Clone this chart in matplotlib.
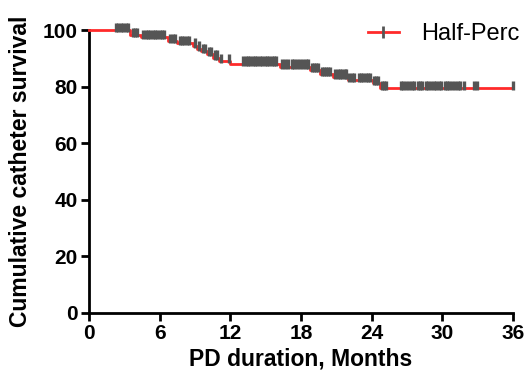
import matplotlib
matplotlib.use("Agg")
import matplotlib.pyplot as plt
from matplotlib.lines import Line2D
import numpy as np

plt.rcParams['font.family'] = ['Liberation Sans', 'DejaVu Sans']

# Kaplan-Meier steps: time (months) at which survival drops, and the level after it
step_times = [0, 3.5, 4.4, 6.7, 7.5, 8.8, 9.2, 9.5, 10.0, 10.5, 11.0, 12.0,
              16.2, 18.8, 19.6, 20.7, 22.0, 24.1, 24.7]
step_surv = [100, 98.3, 97.6, 96.2, 95.4, 94.5, 93.5, 92.5, 91.5, 90.3, 89.0, 88.2,
             87.1, 85.9, 84.5, 83.5, 82.3, 81.2, 79.5]
end_time = 36.0

# Censored observation times (months)
censor_times = [2.3, 2.5, 2.7, 2.9, 3.1, 3.3, 3.7, 3.9, 4.1, 4.6, 4.8, 5.0, 5.2, 5.4,
                5.6, 5.8, 6.0, 6.2, 6.4, 6.9, 7.1, 7.3, 7.7, 7.9, 8.1, 8.3, 8.5, 9.0,
                9.35, 9.7, 9.85, 10.2, 10.35, 10.7, 10.85, 11.2, 11.85,
                13.1, 13.3, 13.5, 13.7, 13.9, 14.1, 14.3, 14.5, 14.7, 14.9, 15.1, 15.3,
                15.5, 15.7, 15.9, 16.4, 16.6, 16.9, 17.2, 17.4, 17.7, 17.9, 18.2, 18.4,
                18.6, 18.9, 19.1, 19.3, 19.45, 19.75, 19.95, 20.1, 20.3, 20.5, 20.9,
                21.1, 21.3, 21.5, 21.7, 21.85, 22.1, 22.3, 22.5, 22.9, 23.1, 23.3, 23.5,
                23.7, 23.9, 24.2, 24.4, 24.55, 24.85, 25.05, 25.25, 26.5, 26.7, 26.9,
                27.2, 27.4, 27.6, 27.9, 28.1, 28.3, 28.6, 28.8, 29.0, 29.3, 29.5, 29.7,
                29.9, 30.2, 30.4, 30.6, 30.8, 31.1, 31.3, 31.5, 31.8, 32.65, 32.95, 36.0]

x_ticks = [0, 6, 12, 18, 24, 30, 36]
y_ticks = [0, 20, 40, 60, 80, 100]

fig = plt.figure(figsize=(5.28, 3.77), dpi=100)
ax = fig.add_axes([0.1686, 0.170, 0.803, 0.750])

red = '#ff2a2a'
gray = '#555555'

st = list(step_times) + [end_time]
sv = list(step_surv) + [step_surv[-1]]
ax.step(st, sv, where='post', color=red, lw=2, zorder=3, clip_on=False)

# censor marks at survival level at that time
def level(t):
    idx = np.searchsorted(step_times, t, side='right') - 1
    return step_surv[idx]

cy = [level(t) for t in censor_times]
ax.vlines(censor_times, [y - 0.7 for y in cy], [y + 2.6 for y in cy],
          color=gray, lw=2.4, zorder=4, clip_on=False)

ax.set_xlim(0, 36)
ax.set_ylim(0, 100)
ax.set_xticks(x_ticks)
ax.set_yticks(y_ticks)
for s in ['top', 'right']:
    ax.spines[s].set_visible(False)
for s in ['left', 'bottom']:
    ax.spines[s].set_linewidth(2)
ax.tick_params(width=2, length=6, labelsize=15, pad=2)
for lab in ax.get_xticklabels() + ax.get_yticklabels():
    lab.set_fontweight('bold')

ax.set_xlabel('PD duration, Months', fontsize=16.5, fontweight='bold', labelpad=3)
ax.set_ylabel('Cumulative catheter survival', fontsize=16.5, fontweight='bold', labelpad=8)

handle = Line2D([], [], color=red, lw=2, marker='|', markersize=8,
                markeredgecolor=gray, markeredgewidth=2)
ax.legend([handle], ['Half-Perc'], loc='upper right', bbox_to_anchor=(1.065, 1.1),
          frameon=False, fontsize=17, handlelength=1.3, numpoints=1, handletextpad=0.95)

fig.savefig('out.png', dpi=100)
